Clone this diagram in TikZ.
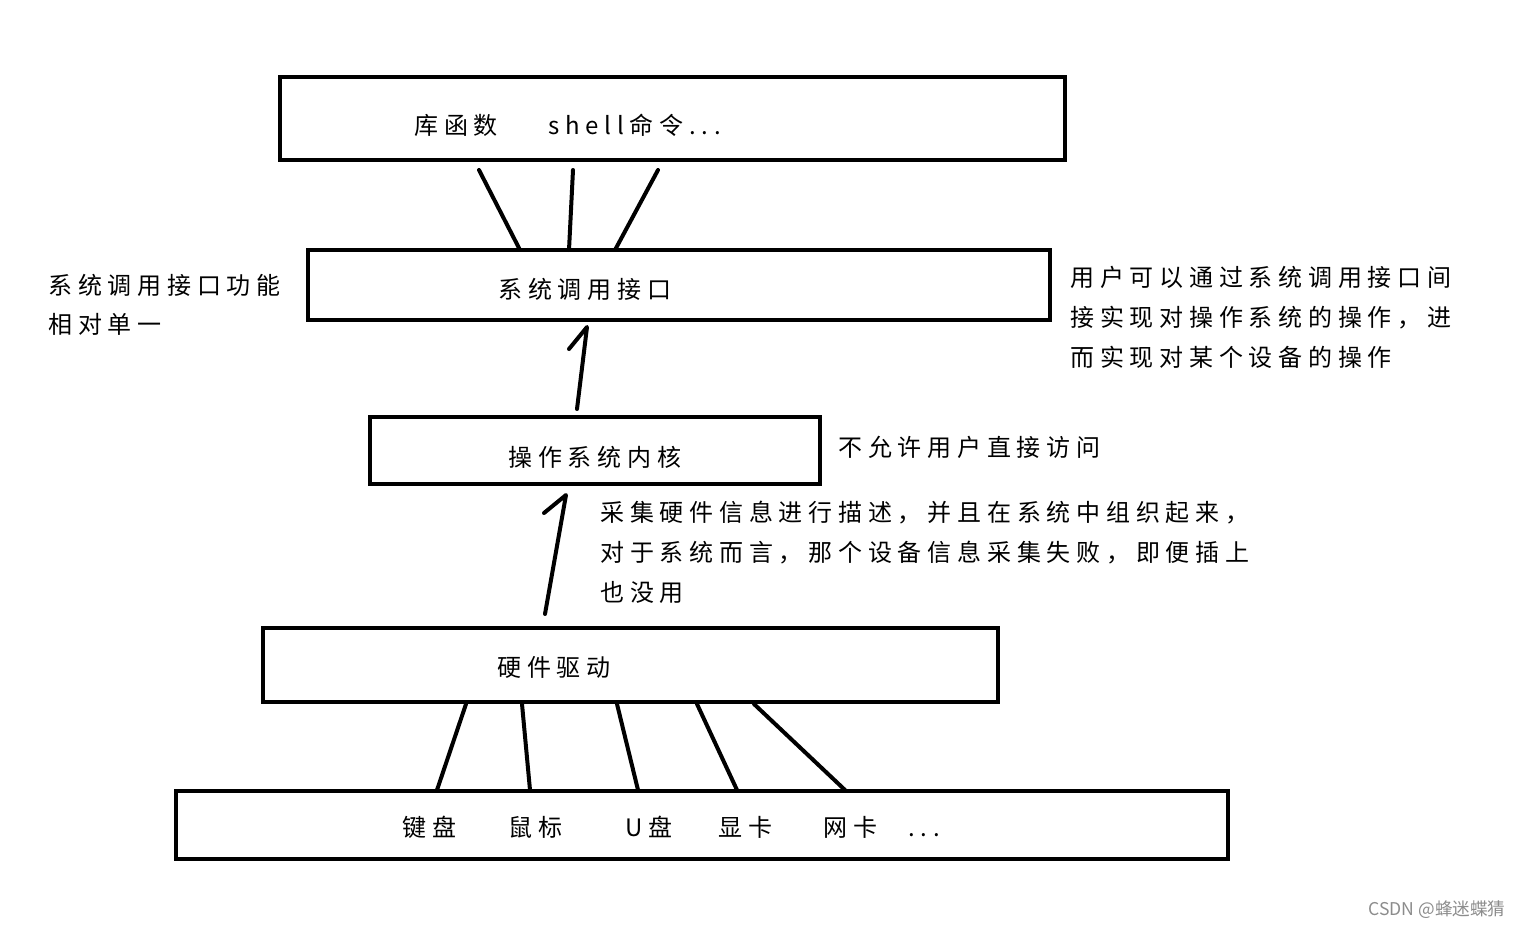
\documentclass[tikz,border=0pt]{standalone}
\usepackage{fontspec}
\usetikzlibrary{fit}
\newfontfamily\cjk[LetterSpace=24]{Noto Sans CJK SC}
\newfontfamily\cjkplain{Noto Sans CJK SC}
\tikzset{
  box/.style={draw=black, line width=2pt, inner sep=0pt, fill=none},
  conn/.style={draw=black, line width=2pt, line cap=round, line join=round},
  txt/.style={anchor=west, inner sep=0pt, text height=10.5pt, text depth=1.5pt, font=\cjk\fontsize{12pt}{14pt}\selectfont},
  wm/.style={anchor=west, inner sep=0pt, text=black!45, font=\cjkplain\fontsize{8.8pt}{10pt}\selectfont}
}
\begin{document}
\begin{tikzpicture}[x=0.5pt,y=-0.5pt]
\useasboundingbox (0,0) rectangle (1519,928);
% boxes
\node[box, fit={(280,77) (1065,160)}] (top) {};
\node[box, fit={(308,250) (1050,320)}] (sys) {};
\node[box, fit={(370,417) (820,484)}] (kern) {};
\node[box, fit={(263,628) (998,702)}] (drv) {};
\node[box, fit={(176,791) (1228,859)}] (dev) {};
% texts
\node[txt] (t1) at (414,125) {库函数};
\node[txt] (t2) at (548,125) {shell命令...};
\node[txt] (tsys) at (498,289) {系统调用接口};
\node[txt] (tl1) at (48,285) {系统调用接口功能};
\node[txt] (tl2) at (48,324) {相对单一};
\node[txt] (tr1) at (1070,277) {用户可以通过系统调用接口间};
\node[txt] (tr2) at (1070,317) {接实现对操作系统的操作，进};
\node[txt] (tr3) at (1070,357) {而实现对某个设备的操作};
\node[txt] (tkern) at (508,457) {操作系统内核};
\node[txt] (tnote) at (838,447) {不允许用户直接访问};
\node[txt] (tc1) at (600,512) {采集硬件信息进行描述，并且在系统中组织起来，};
\node[txt] (tc2) at (600,552) {对于系统而言，那个设备信息采集失败，即便插上};
\node[txt] (tc3) at (600,592) {也没用};
\node[txt] (tdrv) at (497,667) {硬件驱动};
\node[txt] (d1) at (402,827) {键盘};
\node[txt] (d2) at (508,827) {鼠标};
\node[txt] (d3) at (625,827) {U盘};
\node[txt] (d4) at (718,827) {显卡};
\node[txt] (d5) at (823,827) {网卡};
\node[txt] (d6) at (908,827) {...};
\node[wm] (wm) at (1368,910) {CSDN @蜂迷蝶猜};
% connector end points
\coordinate (a1) at (479,170); \coordinate (b1) at (520,250);
\coordinate (a2) at (573,170); \coordinate (b2) at (569,250);
\coordinate (a3) at (658,170); \coordinate (b3) at (615,250);
\draw[conn] (a1) -- (b1);
\draw[conn] (a2) -- (b2);
\draw[conn] (a3) -- (b3);
% arrow kernel -> syscall
\coordinate (k0) at (577,409); \coordinate (k1) at (587,327); \coordinate (k2) at (569,349);
\draw[conn] (k0) -- (k1) -- (k2);
% arrow driver -> kernel
\coordinate (h0) at (545,614); \coordinate (h1) at (566,495); \coordinate (h2) at (544,513);
\draw[conn] (h0) -- (h1) -- (h2);
% driver -> devices
\coordinate (e1) at (466,704); \coordinate (f1) at (437,790);
\coordinate (e2) at (522,704); \coordinate (f2) at (530,790);
\coordinate (e3) at (617,704); \coordinate (f3) at (638,790);
\coordinate (e4) at (697,704); \coordinate (f4) at (737,790);
\coordinate (e5) at (754,704); \coordinate (f5) at (845,790);
\draw[conn] (e1) -- (f1);
\draw[conn] (e2) -- (f2);
\draw[conn] (e3) -- (f3);
\draw[conn] (e4) -- (f4);
\draw[conn] (e5) -- (f5);
\end{tikzpicture}
\end{document}
